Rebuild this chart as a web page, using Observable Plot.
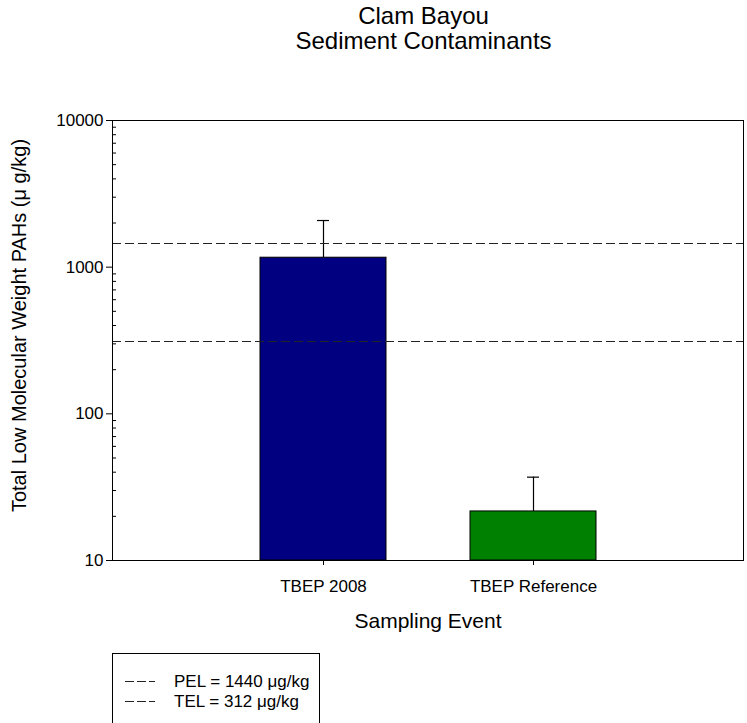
<!DOCTYPE html>
<html>
<head>
<meta charset="utf-8">
<script src="https://cdn.jsdelivr.net/npm/d3@7"></script>
<script src="https://cdn.jsdelivr.net/npm/@observablehq/plot@0.6"></script>
<style>
  html, body { margin: 0; padding: 0; background: #fff; }
  body { width: 747px; height: 723px; overflow: hidden; position: relative; font-family: "Liberation Sans", Arial, sans-serif; color: #000; }
  #chart { position: absolute; left: 0; top: 0; z-index: 1; }
  #title { position: absolute; left: 108px; width: 631px; top: 3px; text-align: center; font-size: 24px; line-height: 25px; z-index: 2; }
  #legend { position: absolute; left: 112px; top: 653px; width: 208px; height: 100px; border: 1px solid #000; box-sizing: border-box; z-index: 2; }
  .row { position: absolute; left: 12px; height: 20px; display: flex; align-items: center; font-size: 17px; white-space: nowrap; }
  .row svg { margin-right: 19px; }
</style>
</head>
<body>
<div id="chart"></div>
<div id="title">Clam Bayou<br>Sediment Contaminants</div>
<div id="legend"></div>
<script>
// Data
const categories = ["TBEP 2008", "TBEP Reference"];
const means = [1160, 21.6];
const upperErrors = [2080, 37];
const barColors = ["#000080", "#008000"];
const thresholdNames = ["PEL", "TEL"];
const thresholdValues = [1440, 312];
const yMajorTicks = [10, 100, 1000, 10000];
const yMinorTicks = [20,30,40,50,60,70,80,90,200,300,400,500,600,700,800,900,2000,3000,4000,5000,6000,7000,8000,9000];
const yLabel = "Total Low Molecular Weight PAHs (\u03BC g/kg)";
const xLabel = "Sampling Event";

const bars = categories.map((c, i) => ({cat: c, value: means[i], upper: upperErrors[i], color: barColors[i]}));
const thresholds = thresholdNames.map((n, i) => ({name: n, value: thresholdValues[i]}));

const font = "'Liberation Sans', Arial, sans-serif";
const bandwidthPx = 126;
const dash = "9,4";

const chart = Plot.plot({
  width: 747,
  height: 723,
  marginTop: 120,
  marginBottom: 163,
  marginLeft: 112,
  marginRight: 4,
  style: {fontFamily: font, color: "#000", background: "transparent", overflow: "visible"},
  x: {type: "band", domain: categories, paddingInner: 0.4, paddingOuter: 0.7},
  y: {type: "log", domain: [10, 10000]},
  marks: [
    Plot.barY(bars, {x: "cat", y1: 10, y2: "value", fill: "color", stroke: "#000", strokeWidth: 1}),
    Plot.ruleX(bars, {x: "cat", y1: "value", y2: "upper", stroke: "#000", strokeWidth: 1.2}),
    Plot.tickY(bars, {x: "cat", y: "upper", stroke: "#000", strokeWidth: 1.2, insetLeft: (bandwidthPx - 12) / 2, insetRight: (bandwidthPx - 12) / 2}),
    Plot.ruleY(thresholds, {y: "value", stroke: "#222", strokeWidth: 1, strokeDasharray: dash, shapeRendering: "crispEdges"}),
    Plot.frame({stroke: "#000", strokeWidth: 1}),
    Plot.axisY({anchor: "left", ticks: yMajorTicks, tickFormat: d => String(d), tickSize: 6, tickPadding: 3, fontSize: 17, label: null, stroke: "#000"}),
    Plot.axisY({anchor: "left", ticks: yMinorTicks, tickSize: 4, dx: 4, text: null, label: null}),
    Plot.text([yLabel], {text: d => d, frameAnchor: "left", textAnchor: "middle", rotate: -90, dx: -93, dy: -15, fontSize: 20, fill: "#000"}),
    Plot.axisX({anchor: "bottom", tickSize: 5, tickPadding: 14, fontSize: 17, label: null}),
    Plot.axisX({anchor: "bottom", ticks: [], label: xLabel, labelAnchor: "center", labelArrow: "none", labelOffset: 67, fontSize: 21})
  ]
});
document.getElementById("chart").appendChild(chart);

// Legend
const legend = document.getElementById("legend");
thresholds.forEach((t, i) => {
  const row = document.createElement("div");
  row.className = "row";
  row.style.top = (18 + i * 20) + "px";
  row.innerHTML = `<svg width="30" height="4"><line x1="0" x2="30" y1="1.5" y2="1.5" stroke="#222" stroke-width="1" stroke-dasharray="9,3" shape-rendering="crispEdges"/></svg><span>${t.name} = ${t.value} \u03BCg/kg</span>`;
  legend.appendChild(row);
});
</script>
</body>
</html>
